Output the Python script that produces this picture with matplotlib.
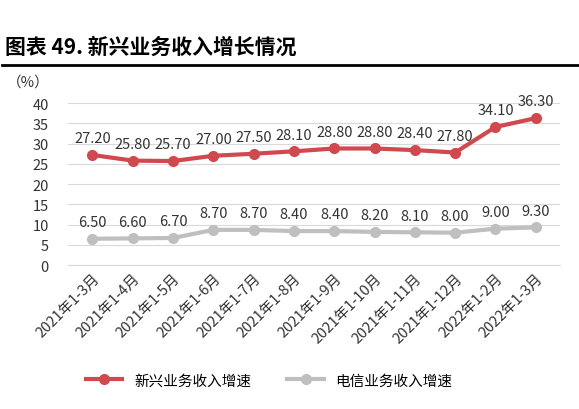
import numpy as np
import matplotlib.pyplot as plt
from matplotlib.lines import Line2D

plt.rcParams['font.family'] = ['Noto Sans CJK SC', 'DejaVu Sans']

months = ['2021年1-3月', '2021年1-4月', '2021年1-5月', '2021年1-6月', '2021年1-7月',
          '2021年1-8月', '2021年1-9月', '2021年1-10月', '2021年1-11月', '2021年1-12月',
          '2022年1-2月', '2022年1-3月']
new_biz = [27.20, 25.80, 25.70, 27.00, 27.50, 28.10, 28.80, 28.80, 28.40, 27.80, 34.10, 36.30]
telecom = [6.50, 6.60, 6.70, 8.70, 8.70, 8.40, 8.40, 8.20, 8.10, 8.00, 9.00, 9.30]

red = '#d0494e'
gray = '#bfbfbf'

fig = plt.figure(figsize=(5.79, 4.10), dpi=100)
ax = fig.add_axes([0.118, 0.351, 0.849, 0.395])

x = np.arange(len(months))
ax.plot(x, new_biz, color=red, lw=3, marker='o', ms=7, label='新兴业务收入增速')
ax.plot(x, telecom, color=gray, lw=3, marker='o', ms=7, label='电信业务收入增速')

for xi, v in zip(x, new_biz):
    ax.annotate(f'{v:.2f}', (xi, v), xytext=(0, 7), textcoords='offset points',
                ha='center', va='bottom', fontsize=10.5, color='#333333')
for xi, v in zip(x, telecom):
    ax.annotate(f'{v:.2f}', (xi, v), xytext=(0, 7), textcoords='offset points',
                ha='center', va='bottom', fontsize=10.5, color='#333333')

ax.set_ylim(0, 40)
ax.set_yticks(range(0, 41, 5))
ax.set_xlim(-0.6, len(months) - 0.4)
ax.set_xticks(x)
ax.set_xticklabels(months, rotation=45, ha='right', rotation_mode='anchor', fontsize=10.5)
ax.tick_params(axis='both', length=0, labelsize=10.5, colors='#333333')
ax.tick_params(axis='y', pad=14)
ax.tick_params(axis='x', pad=4)
ax.grid(axis='y', color='#d9d9d9', lw=0.8)
ax.set_axisbelow(True)
for s in ['top', 'right', 'left']:
    ax.spines[s].set_visible(False)
ax.spines['bottom'].set_color('#d9d9d9')

fig.text(0.012, 0.79, '（%）', fontsize=10.5, color='#333333')

fig.text(0.008, 0.87, '图表 49. 新兴业务收入增长情况', fontsize=15, fontweight='bold', color='black')
fig.add_artist(Line2D([0.003, 1.0], [0.839, 0.839], color='black', lw=2))

handles, labels = ax.get_legend_handles_labels()
fig.legend(handles, labels, loc='center', bbox_to_anchor=(0.465, 0.07), ncol=2,
           frameon=False, fontsize=10.5, handlelength=2.5, columnspacing=2.5)

fig.savefig('out.png', dpi=100)
